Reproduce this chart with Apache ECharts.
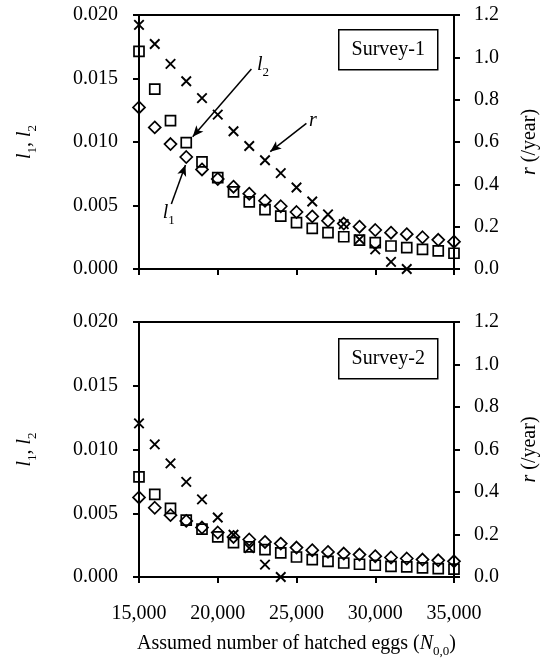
<!DOCTYPE html>
<html>
<head>
<meta charset="utf-8">
<script src="https://cdn.jsdelivr.net/npm/echarts@6/dist/echarts.min.js"></script>
<style>html,body{margin:0;padding:0;background:#fff;}#c{width:548px;height:671px;}</style>
</head>
<body>
<div id="c"></div>
<script>
const eggs = [15000,16000,17000,18000,19000,20000,21000,22000,23000,24000,25000,26000,27000,28000,29000,30000,31000,32000,33000,34000,35000];

// Survey-1
const s1_l1 = [0.01272,0.01115,0.00984,0.00882,0.00784,0.00709,0.00648,0.00593,0.00538,0.00494,0.00449,0.00414,0.00380,0.00358,0.00333,0.00307,0.00286,0.00274,0.00250,0.00230,0.00215];
const s1_l2 = [0.01714,0.01416,0.01168,0.00995,0.00843,0.00719,0.00607,0.00528,0.00468,0.00417,0.00365,0.00320,0.00287,0.00254,0.00228,0.00207,0.00181,0.00168,0.00155,0.00142,0.00124];
const s1_r  = [1.153,1.063,0.969,0.887,0.807,0.729,0.651,0.581,0.514,0.453,0.385,0.319,0.258,0.212,0.140,0.093,0.034,0.0,null,null,null];

// Survey-2
const s2_l1 = [0.00624,0.00543,0.00485,0.00440,0.00388,0.00349,0.00314,0.00294,0.00275,0.00262,0.00231,0.00210,0.00197,0.00184,0.00176,0.00163,0.00153,0.00145,0.00137,0.00131,0.00123];
const s2_l2 = [0.00786,0.00648,0.00538,0.00446,0.00375,0.00314,0.00270,0.00236,0.00214,0.00190,0.00157,0.00137,0.00123,0.00110,0.00100,0.00092,0.00084,0.00079,0.00071,0.00066,0.00061];
const s2_r  = [0.723,0.624,0.535,0.448,0.365,0.280,0.199,0.136,0.058,0.0,null,null,null,null,null,null,null,null,null,null,null];

const panelLabels = ['Survey-1','Survey-2'];
const xTicks = [15000,20000,25000,30000,35000];

// annotations in Survey-1 (data coordinates: eggs, l)
const annL2Label = [22878, 0.01606];
const annL2Arrow = [[22137, 0.01575],[18409, 0.01042]];
const annRLabel  = [26048, 0.01165];
const annRArrow  = [[25628, 0.01147],[23330, 0.00924]];
const annL1Label = [16883, 0.00441];
const annL1Arrow = [[17053, 0.00512],[17950, 0.00819]];

const FONT = 'Liberation Serif';
const pairs = arr => eggs.map((x,i)=>[x,arr[i]]).filter(p=>p[1]!==null);
const fmtComma = v => String(v).replace(/\B(?=(\d{3})+(?!\d))/g, ',');

const richSub = {
  i:{fontFamily:FONT,fontStyle:'italic',fontSize:20,color:'#000',lineHeight:28,verticalAlign:'middle'},
  n:{fontFamily:FONT,fontSize:20,color:'#000',lineHeight:28,verticalAlign:'middle'},
  s:{fontFamily:FONT,fontSize:13,color:'#000',lineHeight:28,verticalAlign:'bottom'}
};

const gridDefs = [{left:139,top:15,width:319,height:254},{left:139,top:322,width:319,height:255}];

function xAx(idx, showLabels){
  return {
    type:'value', gridIndex:idx, min:15000, max:35000, interval:5000,
    axisLine:{show:true,onZero:false,lineStyle:{color:'#000',width:2}},
    axisTick:{show:true,inside:false,length:6,lineStyle:{color:'#000',width:2}},
    axisLabel:{show:showLabels,margin:27,fontFamily:FONT,fontSize:20,color:'#000',formatter:fmtComma},
    splitLine:{show:false},
    name: showLabels ? 'Assumed number of hatched eggs ({i|N}{s|0,0})' : '',
    nameLocation:'middle', nameGap:53,
    nameTextStyle:{fontFamily:FONT,fontSize:20,color:'#000',rich:richSub}
  };
}
function yLeft(idx){
  return {
    type:'value', gridIndex:idx, min:0, max:0.02, interval:0.005, position:'left',
    axisLine:{show:true,lineStyle:{color:'#000',width:2}},
    axisTick:{show:true,inside:false,length:6,lineStyle:{color:'#000',width:2}},
    axisLabel:{margin:21,fontFamily:FONT,fontSize:20,color:'#000',formatter:v=>v.toFixed(3)},
    splitLine:{show:false},
    name:'{i|l}{s|1}{n|, }{i|l}{s|2}', nameLocation:'middle', nameRotate:90, nameGap:100,
    nameTextStyle:{fontFamily:FONT,fontSize:20,color:'#000',rich:richSub}
  };
}
function yRight(idx){
  return {
    type:'value', gridIndex:idx, min:0, max:1.2, interval:0.2, position:'right',
    axisLine:{show:true,lineStyle:{color:'#000',width:2}},
    axisTick:{show:true,inside:false,length:6,lineStyle:{color:'#000',width:2}},
    axisLabel:{margin:20,fontFamily:FONT,fontSize:20,color:'#000',formatter:v=>v.toFixed(1)},
    splitLine:{show:false},
    name:'{i|r} (/year)', nameLocation:'middle', nameRotate:90, nameGap:62,
    nameTextStyle:{fontFamily:FONT,fontSize:20,color:'#000',rich:richSub}
  };
}

const crossPath = 'path://M0,0L10,10M10,0L0,10';
function sc(name, data, xi, yi, symbol, size){
  return {
    type:'scatter', name, xAxisIndex:xi, yAxisIndex:yi, data:pairs(data),
    symbol, symbolSize:size, silent:true,
    itemStyle:{color:'transparent',borderColor:'#000',borderWidth:symbol===crossPath?1.9:1.7,opacity:1}
  };
}

const arrowLine = (a) => [{coord:a[0],symbol:'none'},{coord:a[1],symbol:'arrow',symbolSize:[7,11]}];
const lbl = (coord, text) => ({coord, symbol:'circle', symbolSize:0,
  label:{show:true,position:'inside',formatter:text,rich:richSub,fontFamily:FONT,color:'#000'}});

const s1Diamond = sc('l1',s1_l1,0,0,'diamond',12);
s1Diamond.markLine = {silent:true,animation:false,symbol:['none','arrow'],
  lineStyle:{color:'#000',width:1.5,type:'solid'},label:{show:false},
  data:[arrowLine(annL2Arrow),arrowLine(annRArrow),arrowLine(annL1Arrow)]};
s1Diamond.markPoint = {silent:true,animation:false,
  data:[lbl(annL2Label,'{i|l}{s|2}'),lbl(annRLabel,'{i|r}'),lbl(annL1Label,'{i|l}{s|1}')]};

const chart = echarts.init(document.getElementById('c'),null,{renderer:'canvas'});
chart.setOption({
  animation:false,
  backgroundColor:'#fff',
  grid: gridDefs.map(g=>Object.assign({show:true,borderColor:'#000',borderWidth:2,backgroundColor:'transparent'},g)),
  xAxis:[xAx(0,false), xAx(1,true)],
  yAxis:[yLeft(0), yRight(0), yLeft(1), yRight(1)],
  series:[
    s1Diamond,
    sc('l2',s1_l2,0,0,'rect',10),
    sc('r',s1_r,0,1,crossPath,9.5),
    sc('l1',s2_l1,1,2,'diamond',12),
    sc('l2',s2_l2,1,2,'rect',10),
    sc('r',s2_r,1,3,crossPath,9.5)
  ],
  graphic: panelLabels.map((t,i)=>({
    type:'group', left:338, top: i===0?29:338,
    children:[
      {type:'rect',shape:{x:0,y:0,width:99,height:40},style:{fill:'#fff',stroke:'#000',lineWidth:1.5}},
      {type:'text',x:49.5,y:20,style:{text:t,fontFamily:FONT,fontSize:20,fill:'#000',align:'center',verticalAlign:'middle'}}
    ]
  }))
});
</script>
</body>
</html>
